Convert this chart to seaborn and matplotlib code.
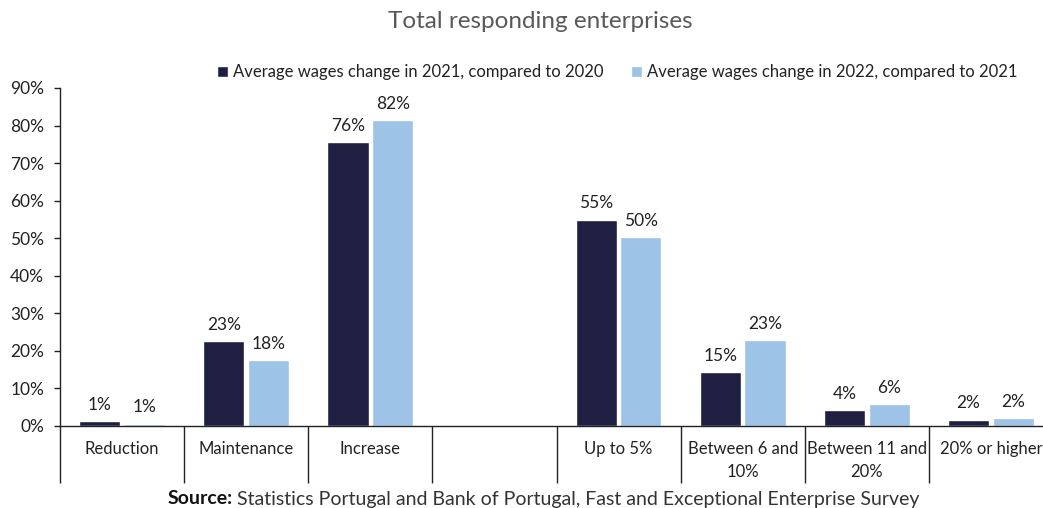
import numpy as np
import pandas as pd
import matplotlib.pyplot as plt
import seaborn as sns
from matplotlib.ticker import FixedLocator, PercentFormatter

sns.set_theme(style='white')
plt.rcParams['font.family'] = ['Lato', 'DejaVu Sans']

dark = '#1F1F41'
light = '#9DC3E6'
grey_txt = '#595959'

categories = ['Reduction', 'Maintenance', 'Increase', '', 'Up to 5%',
              'Between 6 and\n10%', 'Between 11 and\n20%', '20% or higher']
series = ['Average wages change in 2021, compared to 2020',
          'Average wages change in 2022, compared to 2021']
vals_2021 = [1.3, 22.6, 75.6, np.nan, 54.9, 14.4, 4.3, 1.7]
vals_2022 = [0.6, 17.6, 81.5, np.nan, 50.3, 22.9, 5.9, 2.1]
labels_2021 = ['1%', '23%', '76%', '', '55%', '15%', '4%', '2%']
labels_2022 = ['1%', '18%', '82%', '', '50%', '23%', '6%', '2%']

df = pd.DataFrame({
    'category': categories * 2,
    'series': [series[0]] * len(categories) + [series[1]] * len(categories),
    'value': vals_2021 + vals_2022,
})
df = df.dropna()

fig = plt.figure(figsize=(10.43, 5.08), dpi=100)
ax = fig.add_axes([60 / 1043, 82 / 508, 993 / 1043, 338 / 508])

sns.barplot(data=df, x='category', y='value', hue='series', order=categories,
            hue_order=series, palette=[dark, light], width=0.72, gap=0.08,
            saturation=1, errorbar=None, ax=ax)

for cont, labs in zip(ax.containers, [labels_2021, labels_2022]):
    labs = [l for l in labs if l]
    ax.bar_label(cont, labels=labs, padding=6, fontsize=12.5, color='#222222')

ax.set_ylim(0, 90)
ax.set_xlim(-0.5, len(categories) - 0.5)
ax.yaxis.set_major_locator(FixedLocator(np.arange(0, 91, 10)))
ax.yaxis.set_major_formatter(PercentFormatter(decimals=0))
ax.tick_params(axis='y', left=True, length=4.5, width=1, color='#222222',
               pad=7, labelsize=12.5, labelcolor='#222222')
ax.tick_params(axis='x', which='major', bottom=False, length=0, pad=11,
               labelsize=12, labelcolor='#222222')
ax.xaxis.set_minor_locator(FixedLocator(np.arange(-0.5, len(categories), 1)))
ax.tick_params(axis='x', which='minor', bottom=True, length=41, width=1,
               color='#222222')
for lab in ax.get_xticklabels():
    lab.set_verticalalignment('top')
    lab.set_linespacing(1.55)
ax.set_xlabel('')
ax.set_ylabel('')
for sp in ['top', 'right']:
    ax.spines[sp].set_visible(False)
for sp in ['left', 'bottom']:
    ax.spines[sp].set_color('#222222')
    ax.spines[sp].set_linewidth(1)

ax.legend(loc='upper left', bbox_to_anchor=(150 / 993, 1.09), ncol=2,
          frameon=False, fontsize=12, handlelength=0.7, handleheight=0.7,
          handletextpad=0.3, columnspacing=1.6, borderaxespad=0,
          labelcolor='#222222')

fig.text(540 / 1043, 1 - 22 / 508, 'Total responding enterprises', ha='center',
         va='center', fontsize=17.5, color=grey_txt)
t1 = fig.text(168 / 1043, 1 - 499 / 508, 'Source:', ha='left', va='center',
              fontsize=14, fontweight='bold', color='#111111')
fig.canvas.draw()
bb = t1.get_window_extent()
fig.text(bb.x1 / 1043 + 0.004, 1 - 499 / 508,
         'Statistics Portugal and Bank of Portugal, Fast and Exceptional Enterprise Survey',
         ha='left', va='center', fontsize=14, color='#333333')

fig.savefig('out.png', dpi=100)
